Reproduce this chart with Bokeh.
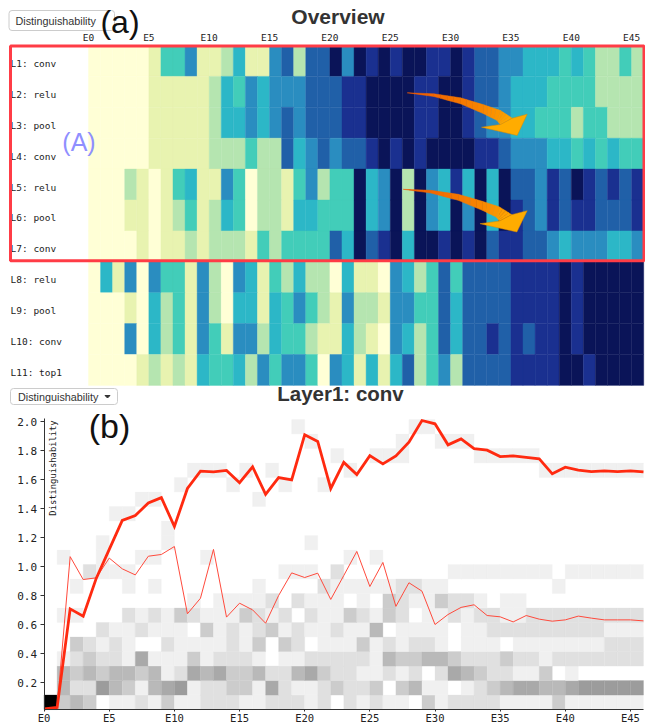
from bokeh.plotting import figure
from bokeh.layouts import column
from bokeh.models import Range1d, FixedTicker, Label, BoxAnnotation, PolyAnnotation, ColumnDataSource, LinearAxis
from bokeh.core.properties import value
from bokeh.embed import file_html
from bokeh.resources import INLINE
import numpy as np

LAYERS = ["L1: conv", "L2: relu", "L3: pool", "L4: conv", "L5: relu", "L6: pool",
          "L7: conv", "L8: relu", "L9: pool", "L10: conv", "L11: top1"]
EPOCH_TICKS = [0, 5, 10, 15, 20, 25, 30, 35, 40, 45]
EPOCH_LABELS = ["E0", "E5", "E10", "E15", "E20", "E25", "E30", "E35", "E40", "E45"]
Y_TICKS = [0.2, 0.4, 0.6, 0.8, 1.0, 1.2, 1.4, 1.6, 1.8, 2.0]
Y_LABELS = ["0.2", "0.4", "0.6", "0.8", "1.0", "1.2", "1.4", "1.6", "1.8", "2.0"]

# overview: quantised colour class per layer, per epoch
OVERVIEW = [
    [0,0,0,0,0,1,3,3,5,1,1,2,4,1,1,5,6,2,6,6,8,5,8,7,8,7,8,8,7,7,8,7,6,6,5,5,4,4,4,3,4,3,2,2,3,2],
    [0,0,0,0,0,1,1,1,1,1,2,4,3,5,4,5,5,5,6,6,6,7,7,8,8,8,8,7,7,8,8,7,6,6,5,4,4,4,3,3,3,3,2,2,2,2],
    [0,0,0,0,0,1,1,1,1,1,2,4,4,5,4,5,6,5,6,6,6,7,7,8,8,8,8,7,7,8,8,7,6,5,5,4,4,3,3,3,2,3,3,2,2,2],
    [0,0,0,0,0,1,1,1,1,1,2,2,2,3,2,2,6,4,5,6,5,6,6,7,8,7,8,7,8,8,8,8,7,7,6,5,5,5,4,4,3,4,3,4,3,3],
    [0,0,0,2,1,0,1,3,4,1,1,5,3,0,2,2,1,3,5,2,3,3,8,4,5,8,2,8,5,4,7,4,8,4,8,6,6,5,7,6,8,7,6,7,6,7],
    [0,0,0,1,1,0,1,2,3,1,2,4,3,0,2,2,1,4,4,3,3,3,8,4,5,8,2,8,5,4,8,5,8,4,8,7,6,5,7,6,7,7,6,6,6,7],
    [0,0,0,0,1,0,1,1,2,1,2,2,2,1,3,2,3,3,3,3,6,4,8,6,7,8,4,8,8,7,8,7,8,6,7,7,6,6,5,4,5,5,5,4,4,5],
    [0,4,1,5,0,5,3,3,1,5,2,0,5,4,1,3,2,4,2,2,0,4,1,1,0,5,4,2,3,6,3,6,6,6,6,7,7,7,7,8,7,8,8,8,8,8],
    [0,0,0,1,0,4,2,3,1,5,2,0,4,4,1,4,3,5,3,2,1,5,2,2,1,5,5,3,3,6,4,6,6,6,6,7,7,7,7,8,7,8,8,8,8,8],
    [0,0,0,5,0,4,2,3,1,5,3,1,5,5,2,4,3,3,2,1,1,4,2,1,0,5,4,2,3,6,4,6,6,7,6,7,6,7,7,8,7,8,8,8,8,8],
    [0,0,0,0,1,2,1,2,1,4,3,3,4,2,5,3,5,5,3,0,5,4,1,4,1,4,6,2,3,5,2,6,6,6,6,7,7,7,7,8,8,7,8,8,8,8],
]
CLASS_COLORS = ["#FFFFD6", "#E8F3B0", "#B5E5B0", "#42CDB9", "#2CB7C7",
                "#2A8DC0", "#2060A8", "#1A3090", "#0A1458"]

# distribution grid: rows from the lowest value band upward, one digit per epoch
DIST_ROWS = [
    "93430 11213 11222 11222 12021 21103 12222 11113 111111",
    "04226 43145 61223 31521 12322 30341 10123 45544 566666",
    "04343 44341 25453 34224 53221 12120 25432 21130 100000",
    "01232 21511 13122 21011 22222 14334 43222 32212 222222",
    "00321 21002 11112 13032 01113 12122 10111 01111 111222",
    "00002 11211 10312 12312 11211 40111 10112 22222 222111",
    "01100 02121 32111 32120 21132 13201 12122 11222 222222",
    "00000 00000 01011 11202 11101 03211 32210 11000 000000",
    "00100 01010 00000 01000 02111 11221 10000 00001 000000",
    "00021 11000 00000 00011 10200 00000 01111 11110 111111",
    "01001 00110 00100 00000 00010 10000 00000 00000 000000",
    "00001 00001 00000 00000 10000 00000 00000 00000 000000",
    "00000 00001 00000 00000 00000 00000 00000 00000 000000",
    "00000 11000 00000 00000 00000 00000 00000 00000 000000",
    "00000 00110 00000 01000 00000 00000 00000 00000 000000",
    "00000 00000 10001 00010 01000 00000 00000 00000 000000",
    "00000 00000 01110 10100 00010 00000 00000 00011 111111",
    "00000 00000 00000 00000 00100 11100 00011 11100 000000",
    "00000 00000 00000 00000 10000 00100 11100 00000 000000",
    "00000 00000 00000 00001 00000 00011 00000 00000 000000",
]
GREY = {"1": "#F0F0F0", "2": "#E0E0E0", "3": "#CCCCCC", "4": "#B9B9B9",
        "5": "#A9A9A9", "6": "#9C9C9C", "9": "#000000"}
BAND_BASE = 0.0155
BAND_STEP = 0.1

MEAN_LINE = [0.02, 0.03, 0.71, 0.66, 0.92, 1.12, 1.32, 1.354, 1.44, 1.477, 1.278, 1.54, 1.66, 1.655,
             1.665, 1.58, 1.69, 1.50, 1.615, 1.60, 1.91, 1.865, 1.54, 1.72, 1.636, 1.767, 1.71, 1.765,
             1.86, 2.009, 1.986, 1.841, 1.882, 1.815, 1.804, 1.76, 1.765, 1.754, 1.744, 1.641, 1.687,
             1.666, 1.657, 1.661, 1.657, 1.661, 1.654]
THIN_LINE = [0.02, 0.03, 1.07, 0.912, 0.924, 1.06, 0.986, 0.944, 1.073, 1.085, 1.14, 0.676, 0.783, 1.12,
             0.653, 0.749, 0.703, 0.611, 0.802, 0.958, 0.926, 0.956, 0.775, 0.94, 1.106, 0.864, 1.03,
             0.727, 0.89, 0.832, 0.602, 0.671, 0.72, 0.738, 0.664, 0.655, 0.62, 0.664, 0.639, 0.625,
             0.634, 0.66, 0.646, 0.634, 0.634, 0.634, 0.627]

W = 645
H1 = 406
H2 = 318
MONO = "DejaVu Sans Mono"
SANS = "Liberation Sans"

# ---------- overview ----------
def ax(sx):
    return (sx - 88.0) / 12.07
def ay(sy):
    return (sy - 45.0) / 30.9

p1 = figure(width=W, height=H1, output_backend="svg", toolbar_location=None,
            x_range=Range1d(ax(0), ax(W)), y_range=Range1d(ay(H1), ay(0)),
            x_axis_location=None, y_axis_location=None, min_border=0)
p1.outline_line_color = None
p1.grid.visible = False

xa = LinearAxis(fixed_location=ay(49))
xa.ticker = FixedTicker(ticks=EPOCH_TICKS)
xa.major_label_overrides = dict(zip(EPOCH_TICKS, EPOCH_LABELS))
xa.axis_line_color = None
xa.major_tick_line_color = None
xa.minor_tick_line_color = None
xa.major_label_text_font = MONO
xa.major_label_text_font_size = "9.5px"
xa.major_label_text_color = "#222222"
xa.major_label_standoff = 1

ov = dict(l=[], r=[], t=[], b=[], c=[])
for i, row in enumerate(OVERVIEW):
    for j, k in enumerate(row):
        ov["l"].append(j); ov["r"].append(j + 1); ov["t"].append(i); ov["b"].append(i + 1)
        ov["c"].append(CLASS_COLORS[k])
p1.quad(left="l", right="r", top="t", bottom="b", fill_color="c", line_color="c",
        line_width=0.4, source=ColumnDataSource(ov))
p1.add_layout(xa, "above")

p1.text(x=[ax(10)] * len(LAYERS), y=[i + 0.58 for i in range(len(LAYERS))], text=LAYERS,
        text_font=value(MONO), text_font_size="9.5px", text_color="#222222",
        text_baseline="middle", text_align="left")

def draw_arrow(fig, dy, tail_shift):
    upper = [(406.7, 92.3), (433.3, 93.3), (460.0, 97.3), (483.3, 104.3), (500.0, 110.0), (511.7, 117.7)]
    lower = [(406.7, 92.3), (433.3, 96.0), (460.0, 103.3), (483.3, 113.3), (496.7, 120.0), (500.0, 124.0)]
    head_px = [(511.7, 117.7), (526.7, 113.7), (516.7, 135.0), (481.0, 126.7), (500.0, 124.0)]
    def px(p):
        sx = p[0] - tail_shift * max(0.0, 1 - (p[0] - 407) / 120.0)
        return sx, p[1] + dy
    up = np.array([px(z) for z in upper])
    lo = np.array([px(z) for z in lower])
    tu = np.linspace(0, 1, len(up))
    ts = np.linspace(0, 1, 21)
    ux, uy = np.interp(ts, tu, up[:, 0]), np.interp(ts, tu, up[:, 1])
    lx, ly = np.interp(ts, tu, lo[:, 0]), np.interp(ts, tu, lo[:, 1])
    c0, c1 = np.array([240, 90, 0]), np.array([255, 165, 0])
    xs, ys, cs = [], [], []
    for i in range(len(ts) - 1):
        xs.append([ax(v) for v in (ux[i], ux[i + 1], lx[i + 1], lx[i])])
        ys.append([ay(v) for v in (uy[i], uy[i + 1], ly[i + 1], ly[i])])
        c = c0 + (c1 - c0) * i / (len(ts) - 2)
        cs.append("#%02x%02x%02x" % tuple(int(v) for v in c))
    head = [px(z) for z in head_px]
    fig.patches(xs, ys, fill_color=cs, line_color=cs, line_width=0.5)
    fig.patch([ax(v[0]) for v in head], [ay(v[1]) for v in head],
              fill_color="#FFAC00", line_color="#D98A00", line_width=0.5)

draw_arrow(p1, 0.0, 0.0)
draw_arrow(p1, 96.5, 4.0)

p1.add_layout(BoxAnnotation(left=ax(10), right=ax(643.5), top=ay(45.5), bottom=ay(260.3),
                            fill_alpha=0, line_color="#FF3C46", line_alpha=1, line_width=3))
p1.add_layout(BoxAnnotation(left=ax(8.5), right=ax(114), top=ay(10), bottom=ay(30),
                            fill_color="#FFFFFF", fill_alpha=1, line_color="#CCCCCC", line_alpha=1,
                            line_width=1, border_radius=3))
p1.add_layout(Label(x=ax(15), y=ay(20), text="Distinguishability", text_font=SANS,
                    text_font_size="10.8px", text_color="#333333", text_baseline="middle", text_align="left"))
p1.add_layout(Label(x=ax(337.5), y=ay(15.5), text="Overview", text_font=SANS, text_font_size="21px",
                    text_font_style="bold", text_color="#333333", text_baseline="middle", text_align="center"))
p1.add_layout(Label(x=ax(119.5), y=ay(21), text="(a)", text_font=SANS, text_font_size="32px",
                    text_color="#111111", text_baseline="middle", text_align="center"))
p1.add_layout(Label(x=ax(78.5), y=ay(141), text="(A)", text_font=SANS, text_font_size="25px",
                    text_color="#8F8FFF", text_baseline="middle", text_align="center"))
p1.add_layout(BoxAnnotation(left=ax(10), right=ax(117), top=ay(388), bottom=ay(404),
                            fill_color="#FFFFFF", fill_alpha=1, line_color="#CCCCCC", line_alpha=1,
                            line_width=1, border_radius=3))
p1.add_layout(Label(x=ax(17.5), y=ay(396), text="Distinguishability", text_font=SANS,
                    text_font_size="10.8px", text_color="#333333", text_baseline="middle", text_align="left"))
p1.add_layout(PolyAnnotation(xs=[ax(104.5), ax(109.5), ax(107)], ys=[ay(395), ay(395), ay(397.5)],
                             fill_color="#333333", fill_alpha=1, line_color="#333333", line_alpha=1))
p1.add_layout(Label(x=ax(340), y=ay(392.5), text="Layer1: conv", text_font=SANS, text_font_size="20.5px",
                    text_font_style="bold", text_color="#333333", text_baseline="middle", text_align="center"))

# ---------- layer detail ----------
Y0 = 711.3
def bx(sx):
    return (sx - 43.6) / 13.03
def by(sy):
    return (Y0 - sy) / 145.0

p2 = figure(width=W, height=H2, output_backend="svg", toolbar_location=None,
            x_range=Range1d(bx(0), bx(W)), y_range=Range1d(by(H1 + H2), by(H1)),
            x_axis_location=None, y_axis_location=None, min_border=0)
p2.outline_line_color = None
p2.grid.visible = False

dist = dict(l=[], r=[], t=[], b=[], c=[])
for i, row in enumerate(DIST_ROWS):
    for j, ch in enumerate(row.replace(" ", "")):
        if ch != "0":
            dist["l"].append(j); dist["r"].append(j + 1)
            dist["b"].append(BAND_BASE + BAND_STEP * i)
            dist["t"].append(BAND_BASE + BAND_STEP * (i + 1))
            dist["c"].append(GREY[ch])
p2.quad(left="l", right="r", top="t", bottom="b", fill_color="c", line_color="c",
        line_width=0.3, source=ColumnDataSource(dist))

epochs = list(range(len(MEAN_LINE)))
p2.line(epochs, THIN_LINE, line_color="#FF4A3C", line_width=1)
p2.line(epochs, MEAN_LINE, line_color="#FF2A10", line_width=2.8, line_join="miter")

xb = LinearAxis(fixed_location=by(709))
xb.ticker = FixedTicker(ticks=EPOCH_TICKS)
xb.major_label_overrides = dict(zip(EPOCH_TICKS, EPOCH_LABELS))
xb.bounds = (0, 46)
yb = LinearAxis(fixed_location=0)
yb.ticker = FixedTicker(ticks=Y_TICKS)
yb.major_label_overrides = dict(zip(Y_TICKS, Y_LABELS))
yb.bounds = (by(709), 2.02)
for a in (xb, yb):
    a.axis_line_color = "#333333"
    a.major_tick_line_color = "#333333"
    a.minor_tick_line_color = None
    a.major_tick_in = 0
    a.major_label_text_font = MONO
    a.major_label_text_font_size = "11px"
    a.major_label_text_color = "#222222"
xb.major_tick_out = 2
xb.major_label_standoff = 0
xb.major_label_text_font_size = "10.5px"
yb.major_tick_out = 4
yb.major_label_standoff = 3
p2.add_layout(xb, "below")
p2.add_layout(yb, "left")

p2.add_layout(Label(x=bx(52.5), y=by(467.5), text="Distinguishability", angle=90, angle_units="deg",
                    text_font=MONO, text_font_size="8.8px", text_color="#222222",
                    text_baseline="middle", text_align="center"))
p2.add_layout(Label(x=bx(109), y=by(425), text="(b)", text_font=SANS, text_font_size="34px",
                    text_color="#111111", text_baseline="middle", text_align="center"))

page = column(p1, p2, spacing=0)
open("out.html", "w").write(file_html(page, INLINE))
